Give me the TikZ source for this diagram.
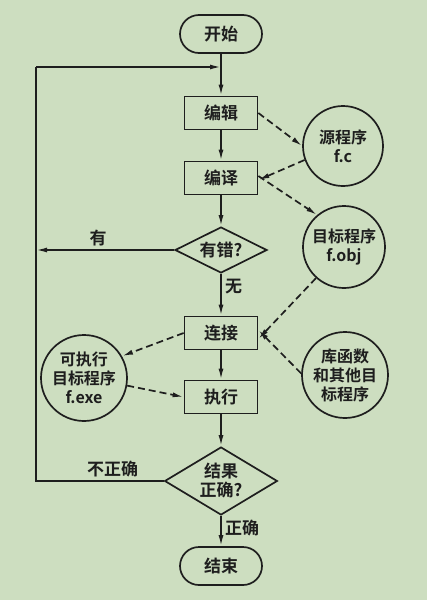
\documentclass[tikz,border=0pt]{standalone}
\usepackage{fontspec}
\setmainfont{Noto Sans CJK SC}[BoldFont={Noto Sans CJK SC Bold}]
\usetikzlibrary{shapes.geometric,arrows.meta}
\definecolor{bg}{RGB}{205,222,192}
\definecolor{ink}{RGB}{30,30,30}
\begin{document}
\begin{tikzpicture}[x=1pt,y=-1pt,
  every node/.style={font=\fontsize{17}{19}\selectfont\bfseries,text=ink},
  line/.style={draw=ink,line width=1.7pt},
  arr/.style={line,-{Latex[length=11pt,width=5pt]}},
  darr/.style={arr,dash pattern=on 7pt off 4pt},
  term/.style={draw=ink,line width=1.7pt,rounded corners=19pt,minimum width=82pt,minimum height=38pt},
  proc/.style={draw=ink,line width=1.7pt,minimum width=73pt,minimum height=33pt},
  dec/.style={draw=ink,line width=1.7pt,diamond,aspect=2,inner sep=0pt},
  file/.style={draw=ink,line width=1.7pt,circle,align=center,inner sep=0pt,font=\fontsize{16}{19}\selectfont\bfseries}]
\fill[bg] (0,0) rectangle (427,600);
\useasboundingbox (0,0) rectangle (427,600);
\node[term] (start) at (221,34) {开始};
\node[proc] (edit) at (221,113) {编辑};
\node[proc] (comp) at (221,178) {编译};
\node[dec,minimum width=92pt,minimum height=46pt] (err) at (221,250) {有错?};
\node[proc] (link) at (221,333) {连接};
\node[proc] (run) at (221,397) {执行};
\node[dec,minimum width=108pt,minimum height=68pt,align=center] (ok) at (221,481) {结果\\正确?};
\node[term] (end) at (221,566) {结束};
\node[file,minimum size=80pt] (src) at (343,146) {源程序\\f.c};
\node[file,minimum size=82pt] (obj) at (344,247) {目标程序\\f.obj};
\node[file,minimum size=86pt] (exe) at (84,378) {可执行\\目标程序\\f.exe};
\node[file,minimum size=86pt] (lib) at (345,375) {库函数\\和其他目\\标程序};
\coordinate (top) at (221,67);
\coordinate (tl) at (36,67);
\coordinate (el) at (36,250);
\coordinate (bl) at (36,481);
% main flow
\draw[line] (start) -- (top);
\draw[arr] (top) -- (edit);
\draw[arr] (edit) -- (comp);
\draw[arr] (comp) -- (err);
\draw[arr] (err) -- node[right,pos=0.3] {无} (link);
\draw[arr] (link) -- (run);
\draw[arr] (run) -- (ok);
\draw[arr] (ok) -- node[right,pos=0.4] {正确} (end);
\draw[arr] (err.west) -- node[above,pos=0.55] {有} (el);
\draw[line] (ok.west) -- node[above,pos=0.4] {不正确} (bl) -- (tl);
\draw[arr] (tl) -- (top);
% dashed
\draw[darr] (edit.east) -- (src.west);
\draw[darr] (src.200) -- ([yshift=-2pt]comp.east);
\draw[darr] ([yshift=2pt]comp.east) -- (obj.130);
\draw[darr] (obj.228) -- ([yshift=-6pt]link.east);
\draw[darr] (lib.178) -- ([yshift=3pt]link.east);
\draw[darr] (link.west) -- (exe.30);
\draw[darr] (exe.-10) -- (run.west);
\end{tikzpicture}
\end{document}
